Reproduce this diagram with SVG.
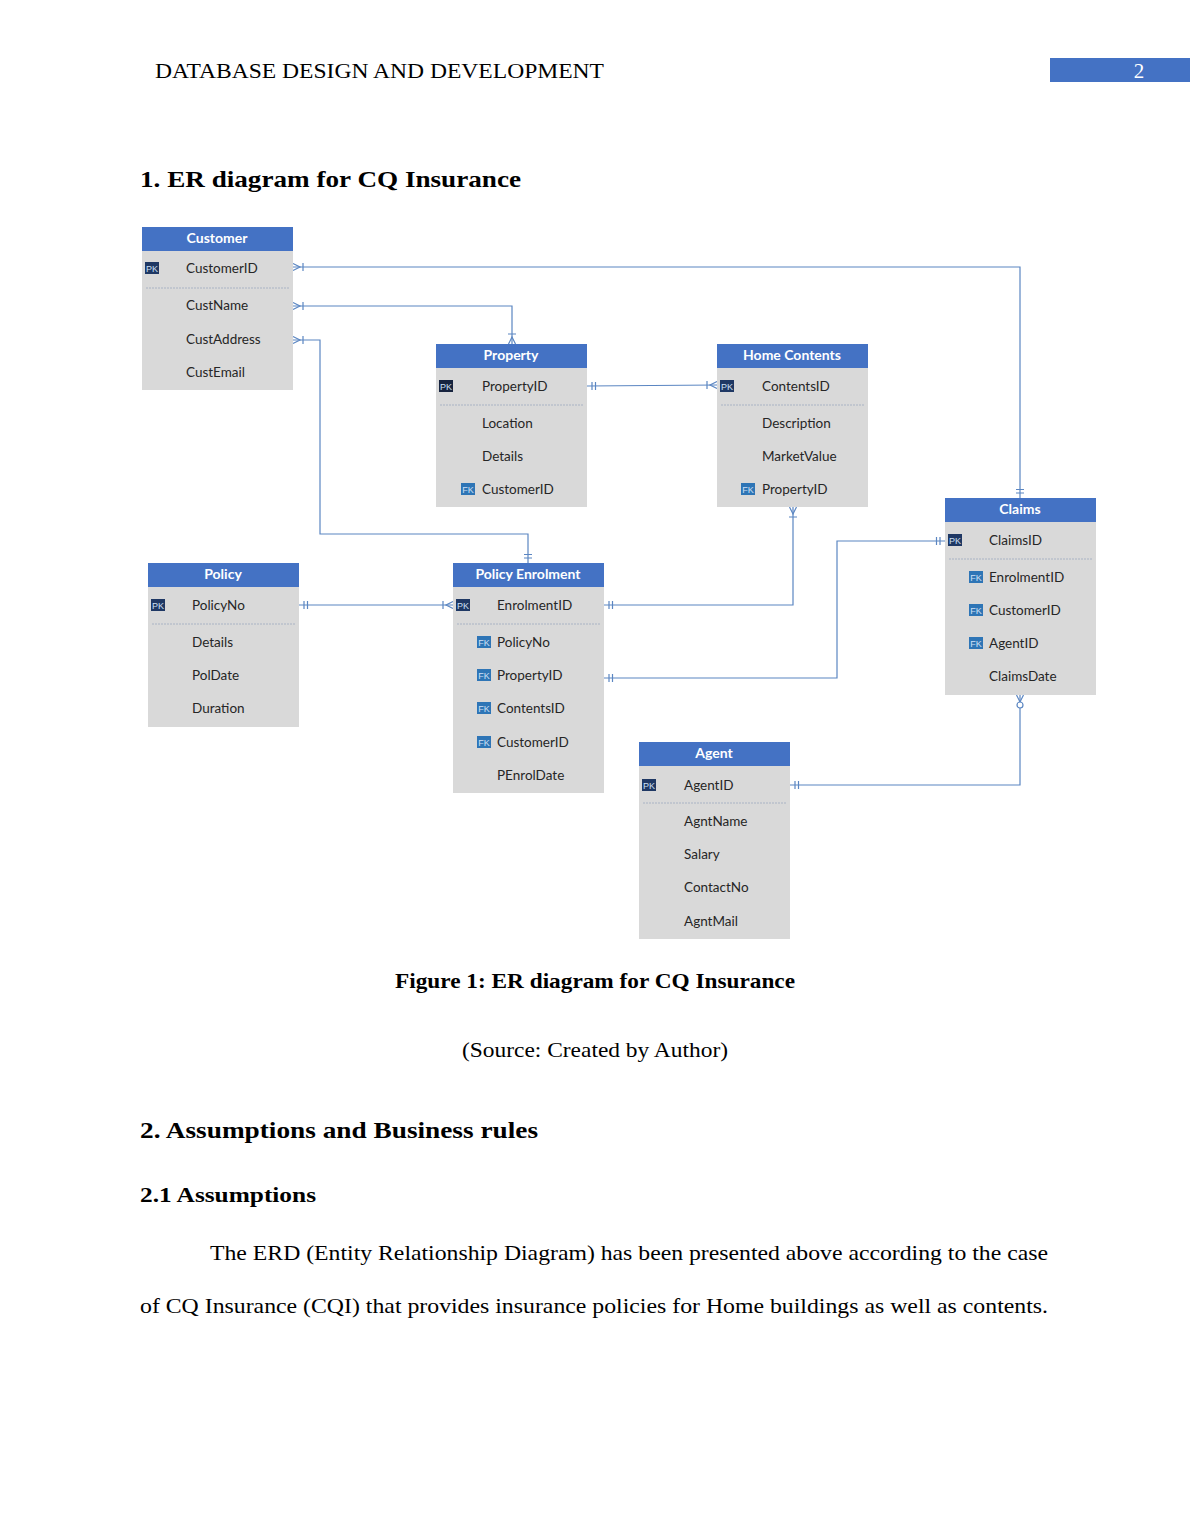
<svg xmlns="http://www.w3.org/2000/svg" xmlns:xlink="http://www.w3.org/1999/xlink" width="1190" height="1540" viewBox="0 0 1190 1540">
<style>
.page{font-family:"Liberation Serif","Times New Roman",serif;fill:#000}
.tb{fill:#d9d9d9}
.th{fill:#4472c4}
.tt{font-family:Lato,"Open Sans","Liberation Sans",sans-serif;font-size:14px;font-weight:bold;fill:#fff;text-anchor:middle}
.at{font-family:Lato,"Open Sans","Liberation Sans",sans-serif;font-size:13.5px;fill:#262626}
.sep{stroke:#a9b3c4;stroke-width:1;stroke-dasharray:2 1}
.pk{fill:#1f3864}
.fk{fill:#2e75b6}
.ic{font-family:"Liberation Sans",Arial,sans-serif;font-size:9px;fill:#cfe0f5;text-anchor:middle}
.cn{fill:none;stroke:#5b86c2;stroke-width:1.2}
</style>
<defs>
<g id="cmany" fill="none" stroke="#5b86c2" stroke-width="1.2">
<path d="M0,-3.5 L7,0 L0,3.5 M10,-4 V4"/>
</g>
<g id="cone" fill="none" stroke="#5b86c2" stroke-width="1.2">
<path d="M5,-4 V4 M8.5,-4 V4"/>
</g>
<g id="czmany" fill="none" stroke="#5b86c2" stroke-width="1.2">
<path d="M0,-3.5 L7,0 L0,3.5"/>
<circle cx="10" cy="0" r="3" fill="#fff"/>
</g>
</defs>
<rect width="1190" height="1540" fill="#fff"/>

<g id="header">
<text class="page" x="155" y="78" font-size="21" textLength="449" lengthAdjust="spacingAndGlyphs">DATABASE DESIGN AND DEVELOPMENT</text>
<rect x="1050" y="58" width="140" height="24" fill="#4472c4"/>
<text x="1139" y="78" font-family="Liberation Serif,serif" font-size="21" fill="#fff" text-anchor="middle">2</text>
</g>
<text class="page" x="140" y="187" font-size="24" font-weight="bold" textLength="381" lengthAdjust="spacingAndGlyphs">1. ER diagram for CQ Insurance</text>

<g id="connectors">
<path class="cn" d="M293,267 H1020 V498"/>
<path class="cn" d="M293,306 H512 V344"/>
<path class="cn" d="M293,340 H320 V534 H528 V563"/>
<path class="cn" d="M587,386 L717,385"/>
<path class="cn" d="M793,507 V605 H604"/>
<path class="cn" d="M299,605 H453"/>
<path class="cn" d="M604,678 H837 V541 H945"/>
<path class="cn" d="M790,785 H1020 V695"/>
<use xlink:href="#cmany" transform="translate(293,267)"/>
<use xlink:href="#cone" transform="translate(1020,498) rotate(-90)"/>
<use xlink:href="#cmany" transform="translate(293,306)"/>
<use xlink:href="#cmany" transform="translate(512,344) rotate(-90)"/>
<use xlink:href="#cmany" transform="translate(293,340)"/>
<use xlink:href="#cone" transform="translate(528,563) rotate(-90)"/>
<use xlink:href="#cone" transform="translate(587,386)"/>
<use xlink:href="#cmany" transform="translate(717,385) rotate(180)"/>
<use xlink:href="#cmany" transform="translate(793,507) rotate(90)"/>
<use xlink:href="#cone" transform="translate(604,605)"/>
<use xlink:href="#cone" transform="translate(299,605)"/>
<use xlink:href="#cmany" transform="translate(453,605) rotate(180)"/>
<use xlink:href="#cone" transform="translate(604,678)"/>
<use xlink:href="#cone" transform="translate(945,541) rotate(180)"/>
<use xlink:href="#cone" transform="translate(790,785)"/>
<use xlink:href="#czmany" transform="translate(1020,695) rotate(90)"/>
</g>

<g id="customer">
<rect class="tb" x="142" y="251" width="151" height="139"/>
<rect class="th" x="142" y="227" width="151" height="24"/>
<text class="tt" x="217" y="243">Customer</text>
<rect class="pk" x="145" y="262" width="14" height="12"/><text class="ic" x="152" y="271.5">PK</text>
<text class="at" x="186" y="273">CustomerID</text>
<line class="sep" x1="146" y1="288" x2="289" y2="288"/>
<text class="at" x="186" y="310">CustName</text>
<text class="at" x="186" y="344">CustAddress</text>
<text class="at" x="186" y="377">CustEmail</text>
</g>

<g id="property">
<rect class="tb" x="436" y="368" width="151" height="139"/>
<rect class="th" x="436" y="344" width="151" height="24"/>
<text class="tt" x="511" y="360">Property</text>
<rect x="439" y="380" width="14" height="12" fill="#17243f"/><text class="ic" x="446" y="389.5">PK</text>
<text class="at" x="482" y="391">PropertyID</text>
<line class="sep" x1="440" y1="405" x2="583" y2="405"/>
<text class="at" x="482" y="428">Location</text>
<text class="at" x="482" y="461">Details</text>
<rect class="fk" x="461" y="483" width="14" height="12"/><text class="ic" x="468" y="492.5">FK</text>
<text class="at" x="482" y="494">CustomerID</text>
</g>

<g id="homecontents">
<rect class="tb" x="717" y="368" width="151" height="139"/>
<rect class="th" x="717" y="344" width="151" height="24"/>
<text class="tt" x="792" y="360">Home Contents</text>
<rect class="pk" x="720" y="380" width="14" height="12"/><text class="ic" x="727" y="389.5">PK</text>
<text class="at" x="762" y="391">ContentsID</text>
<line class="sep" x1="721" y1="405" x2="864" y2="405"/>
<text class="at" x="762" y="428">Description</text>
<text class="at" x="762" y="461">MarketValue</text>
<rect class="fk" x="741" y="483" width="14" height="12"/><text class="ic" x="748" y="492.5">FK</text>
<text class="at" x="762" y="494">PropertyID</text>
</g>

<g id="claims">
<rect class="tb" x="945" y="522" width="151" height="173"/>
<rect class="th" x="945" y="498" width="151" height="24"/>
<text class="tt" x="1020" y="514">Claims</text>
<rect class="pk" x="948" y="534" width="14" height="12"/><text class="ic" x="955" y="543.5">PK</text>
<text class="at" x="989" y="545">ClaimsID</text>
<line class="sep" x1="949" y1="559" x2="1092" y2="559"/>
<rect class="fk" x="969" y="571" width="14" height="12"/><text class="ic" x="976" y="580.5">FK</text>
<text class="at" x="989" y="582">EnrolmentID</text>
<rect class="fk" x="969" y="604" width="14" height="12"/><text class="ic" x="976" y="613.5">FK</text>
<text class="at" x="989" y="615">CustomerID</text>
<rect class="fk" x="969" y="637" width="14" height="12"/><text class="ic" x="976" y="646.5">FK</text>
<text class="at" x="989" y="648">AgentID</text>
<text class="at" x="989" y="681">ClaimsDate</text>
</g>

<g id="policy">
<rect class="tb" x="148" y="587" width="151" height="140"/>
<rect class="th" x="148" y="563" width="151" height="24"/>
<text class="tt" x="223" y="579">Policy</text>
<rect class="pk" x="151" y="599" width="14" height="12"/><text class="ic" x="158" y="608.5">PK</text>
<text class="at" x="192" y="610">PolicyNo</text>
<line class="sep" x1="152" y1="624" x2="295" y2="624"/>
<text class="at" x="192" y="647">Details</text>
<text class="at" x="192" y="680">PolDate</text>
<text class="at" x="192" y="713">Duration</text>
</g>

<g id="policyenrolment">
<rect class="tb" x="453" y="587" width="151" height="206"/>
<rect class="th" x="453" y="563" width="151" height="24"/>
<text class="tt" x="528" y="579">Policy Enrolment</text>
<rect class="pk" x="456" y="599" width="14" height="12"/><text class="ic" x="463" y="608.5">PK</text>
<text class="at" x="497" y="610">EnrolmentID</text>
<line class="sep" x1="457" y1="624" x2="600" y2="624"/>
<rect class="fk" x="477" y="636" width="14" height="12"/><text class="ic" x="484" y="645.5">FK</text>
<text class="at" x="497" y="647">PolicyNo</text>
<rect class="fk" x="477" y="669" width="14" height="12"/><text class="ic" x="484" y="678.5">FK</text>
<text class="at" x="497" y="680">PropertyID</text>
<rect class="fk" x="477" y="702" width="14" height="12"/><text class="ic" x="484" y="711.5">FK</text>
<text class="at" x="497" y="713">ContentsID</text>
<rect class="fk" x="477" y="736" width="14" height="12"/><text class="ic" x="484" y="745.5">FK</text>
<text class="at" x="497" y="747">CustomerID</text>
<text class="at" x="497" y="780">PEnrolDate</text>
</g>

<g id="agent">
<rect class="tb" x="639" y="766" width="151" height="173"/>
<rect class="th" x="639" y="742" width="151" height="24"/>
<text class="tt" x="714" y="758">Agent</text>
<rect class="pk" x="642" y="779" width="14" height="12"/><text class="ic" x="649" y="788.5">PK</text>
<text class="at" x="684" y="790">AgentID</text>
<line class="sep" x1="643" y1="803" x2="786" y2="803"/>
<text class="at" x="684" y="826">AgntName</text>
<text class="at" x="684" y="859">Salary</text>
<text class="at" x="684" y="892">ContactNo</text>
<text class="at" x="684" y="926">AgntMail</text>
</g>

<g id="body">
<text class="page" x="395" y="988" font-size="21" font-weight="bold" textLength="400" lengthAdjust="spacingAndGlyphs">Figure 1: ER diagram for CQ Insurance</text>
<text class="page" x="462" y="1057" font-size="21" textLength="266" lengthAdjust="spacingAndGlyphs">(Source: Created by Author)</text>
<text class="page" x="140" y="1138" font-size="24" font-weight="bold" textLength="398" lengthAdjust="spacingAndGlyphs">2. Assumptions and Business rules</text>
<text class="page" x="140" y="1202" font-size="21" font-weight="bold" textLength="176" lengthAdjust="spacingAndGlyphs">2.1 Assumptions</text>
<text class="page" x="210" y="1260" font-size="21" textLength="838" lengthAdjust="spacingAndGlyphs">The ERD (Entity Relationship Diagram) has been presented above according to the case</text>
<text class="page" x="140" y="1313" font-size="21" textLength="908" lengthAdjust="spacingAndGlyphs">of CQ Insurance (CQI) that provides insurance policies for Home buildings as well as contents.</text>
</g>
</svg>
